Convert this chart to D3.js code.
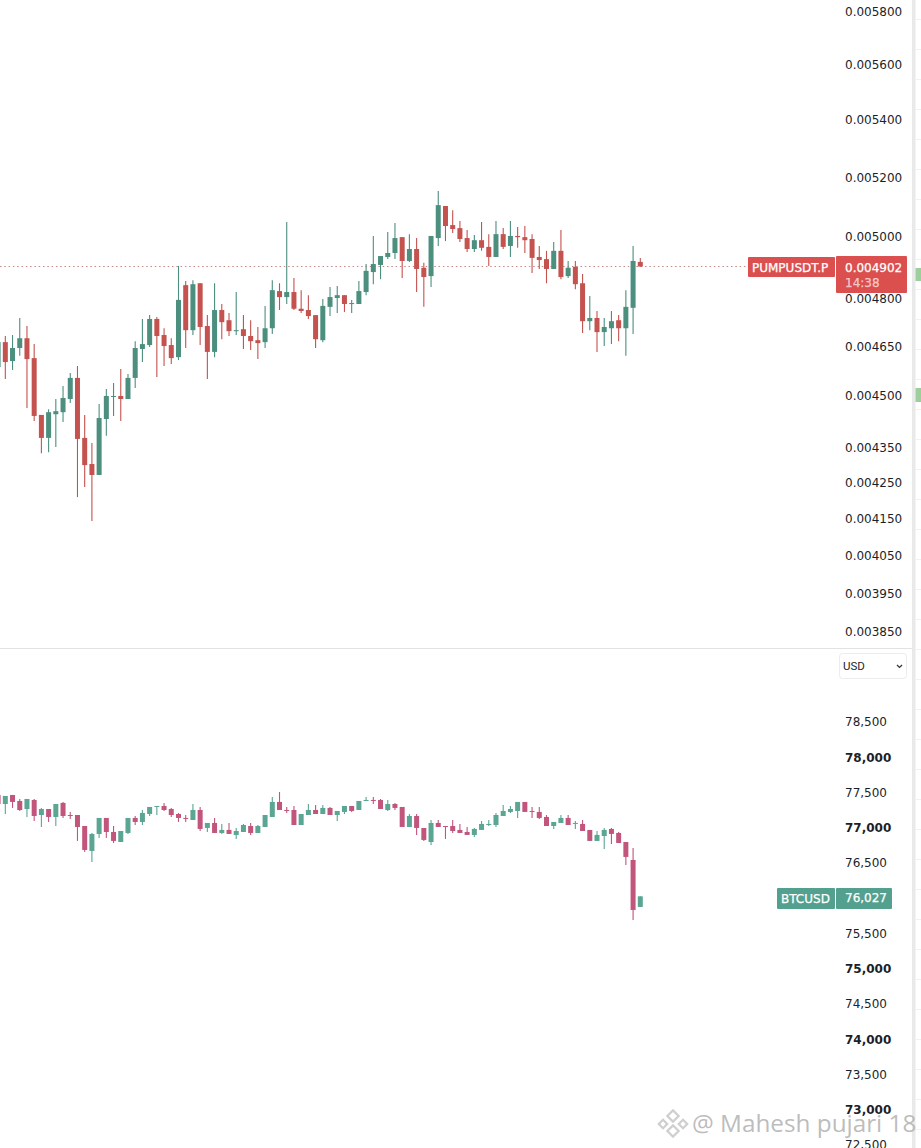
<!DOCTYPE html>
<html>
<head>
<meta charset="utf-8">
<title>PUMPUSDT.P / BTCUSD</title>
<script src="https://cdn.jsdelivr.net/npm/d3@7"></script>
<style>
    html, body { margin: 0; padding: 0; background: #fff; overflow: hidden; }
    svg { display: block; }
    .tick text { font-family: "DejaVu Sans", sans-serif; font-size: 12px; fill: #1b1f2a; }
    .tag { font-family: "DejaVu Sans", sans-serif; font-size: 12px; fill: #fff; stroke: #fff; stroke-width: 0.25px; }
</style>
</head>
<body>
<div id="chart"></div>
<script>
// each row is open, high, low, close
var pumpCandles = [
    [0.004587,0.004679,0.004587,0.004663],
    [0.004663,0.004682,0.004551,0.004602],[0.004605,0.004685,0.004578,0.004645],[0.004645,0.004738,0.004621,0.004675],
    [0.004675,0.004713,0.004464,0.004611],[0.004614,0.004657,0.004426,0.004441],[0.004444,0.004444,0.004333,0.004377],
    [0.004377,0.004461,0.004336,0.004452],[0.004446,0.004491,0.004351,0.004455],[0.004452,0.004530,0.004423,0.004494],
    [0.004491,0.004569,0.004479,0.004554],[0.004554,0.004590,0.004209,0.004374],[0.004377,0.004444,0.004237,0.004299],
    [0.004302,0.004362,0.004143,0.004271],[0.004271,0.004476,0.004271,0.004435],[0.004432,0.004521,0.004383,0.004500],
    [0.004497,0.004539,0.004441,0.004500],[0.004500,0.004581,0.004426,0.004491],[0.004491,0.004566,0.004491,0.004554],
    [0.004554,0.004666,0.004524,0.004645],[0.004642,0.004735,0.004602,0.004657],[0.004654,0.004747,0.004648,0.004735],
    [0.004735,0.004741,0.004557,0.004682],[0.004685,0.004706,0.004590,0.004651],[0.004654,0.004675,0.004596,0.004614],
    [0.004617,0.004904,0.004608,0.004795],[0.004842,0.004855,0.004645,0.004700],[0.004700,0.004858,0.004685,0.004845],
    [0.004848,0.004848,0.004654,0.004710],[0.004713,0.004747,0.004551,0.004633],[0.004633,0.004848,0.004617,0.004763],
    [0.004763,0.004782,0.004672,0.004725],[0.004731,0.004754,0.004682,0.004697],[0.004697,0.004820,0.004685,0.004700],
    [0.004703,0.004747,0.004642,0.004682],[0.004682,0.004731,0.004639,0.004666],[0.004669,0.004710,0.004611,0.004660],
    [0.004663,0.004776,0.004645,0.004706],[0.004706,0.004858,0.004688,0.004826],[0.004823,0.004848,0.004763,0.004804],
    [0.004804,0.005048,0.004782,0.004820],[0.004820,0.004865,0.004763,0.004767],[0.004767,0.004826,0.004754,0.004760],
    [0.004763,0.004810,0.004735,0.004744],[0.004747,0.004747,0.004645,0.004672],[0.004669,0.004798,0.004663,0.004776],
    [0.004773,0.004836,0.004744,0.004804],[0.004801,0.004839,0.004754,0.004810],[0.004810,0.004810,0.004757,0.004782],
    [0.004782,0.004795,0.004754,0.004785],[0.004782,0.004855,0.004782,0.004823],[0.004820,0.004910,0.004810,0.004888],
    [0.004884,0.005002,0.004845,0.004910],[0.004907,0.004936,0.004861,0.004936],[0.004933,0.005015,0.004926,0.004946],
    [0.004946,0.005045,0.004926,0.004995],[0.004998,0.004998,0.004865,0.004920],[0.004920,0.005008,0.004917,0.004959],
    [0.004959,0.004995,0.004820,0.004894],[0.004898,0.004914,0.004773,0.004868],[0.004871,0.005002,0.004836,0.005002],
    [0.004995,0.005153,0.004969,0.005105],[0.005102,0.005102,0.004985,0.005035],[0.005038,0.005088,0.005012,0.005025],
    [0.005028,0.005052,0.004982,0.004992],[0.004995,0.005022,0.004949,0.004959],[0.004959,0.005005,0.004949,0.004988],
    [0.004988,0.005048,0.004953,0.004963],[0.004966,0.005008,0.004904,0.004933],[0.004933,0.005052,0.004933,0.005008],
    [0.005008,0.005028,0.004959,0.004966],[0.004969,0.005052,0.004933,0.005002],[0.005002,0.005032,0.004963,0.004998],
    [0.004998,0.005035,0.004946,0.004988],[0.004992,0.005008,0.004881,0.004930],[0.004933,0.004969,0.004894,0.004923],
    [0.004926,0.004953,0.004848,0.004894],[0.004894,0.004982,0.004894,0.004953],[0.004953,0.005022,0.004861,0.004868],
    [0.004871,0.004920,0.004865,0.004898],[0.004901,0.004920,0.004829,0.004845],[0.004848,0.004878,0.004691,0.004728],
    [0.004728,0.004807,0.004700,0.004738],[0.004738,0.004760,0.004633,0.004694],[0.004694,0.004738,0.004651,0.004710],
    [0.004706,0.004760,0.004657,0.004728],[0.004731,0.004747,0.004666,0.004706],[0.004706,0.004826,0.004621,0.004773],
    [0.004770,0.004969,0.004688,0.004920],[0.004917,0.004930,0.004901,0.004902]
];

var btcCandles = [
    [77465,77465,77337,77337],
    [77337,77451,77195,77451],[77465,77465,77281,77366],[77380,77408,77238,77252],[77266,77408,77153,77408],
    [77394,77408,77096,77167],[77181,77281,77011,77266],[77266,77266,77082,77153],[77153,77337,77025,77337],
    [77352,77366,77139,77167],[77181,77224,77125,77167],[77181,77181,76813,77011],[77025,77025,76657,76685],
    [76671,76926,76515,76912],[76912,77139,76855,77139],[77139,77139,76855,76940],[76940,77025,76784,76813],
    [76798,76954,76798,76954],[76926,77139,76912,77139],[77139,77167,77039,77082],[77082,77252,77039,77210],
    [77195,77295,77167,77295],[77295,77309,77181,77309],[77309,77352,77238,77252],[77266,77281,77153,77181],
    [77195,77210,77082,77139],[77139,77181,77082,77125],[77110,77337,77110,77252],[77252,77295,76954,76983],
    [76997,77068,76940,77068],[77068,77139,76926,76926],[76926,77054,76912,76969],[76969,77068,76912,76912],
    [76898,76997,76841,76954],[76940,77054,76940,77039],[77025,77068,76898,76926],[76926,77039,76926,77025],
    [77011,77181,77011,77181],[77153,77437,77153,77366],[77366,77507,77252,77252],[77252,77295,77210,77238],
    [77252,77309,77039,77039],[77039,77195,77039,77195],[77181,77337,77181,77252],[77252,77323,77195,77195],
    [77195,77323,77195,77281],[77281,77295,77181,77181],[77181,77238,77096,77238],[77224,77309,77195,77309],
    [77309,77309,77224,77238],[77252,77380,77252,77380],[77380,77437,77380,77394],[77394,77437,77337,77380],
    [77394,77408,77266,77266],[77252,77394,77238,77337],[77337,77352,77252,77281],[77295,77295,77011,77011],
    [77011,77195,77011,77167],[77167,77195,76898,76997],[76997,76997,76813,76827],[76798,77110,76756,77068],
    [77068,77110,77011,77011],[77025,77025,76841,77011],[77025,77110,76926,76954],[76969,77054,76926,76926],
    [76940,77011,76898,76898],[76898,76997,76869,76983],[76969,77096,76969,77054],[77039,77110,77025,77054],
    [77039,77210,77011,77181],[77167,77323,77167,77238],[77224,77309,77210,77266],[77238,77366,77139,77366],
    [77366,77366,77224,77224],[77238,77295,77139,77224],[77224,77295,77125,77139],[77153,77181,77025,77025],
    [77025,77082,76983,77082],[77068,77181,77068,77139],[77139,77181,77039,77039],[77054,77096,76983,77068],
    [77054,77110,76954,76954],[76969,76969,76813,76813],[76813,76954,76813,76898],[76883,76997,76699,76969],
    [76983,76997,76770,76912],[76926,76940,76784,76784],[76798,76798,76472,76586],[76543,76713,75692,75834],
    [75877,76027,75877,76027]
];

var pumpTicks = [0.0058, 0.0056, 0.0054, 0.0052, 0.005, 0.0048, 0.00465, 0.0045, 0.00435, 0.00425, 0.00415, 0.00405, 0.00395, 0.00385];
var btcTicks = [78500, 78000, 77500, 77000, 76500, 75500, 75000, 74500, 74000, 73500, 73000, 72500];
var btcBoldTicks = [78000, 77000, 75000, 74000, 73000];

var pumpLast = 0.004902, pumpCountdown = "14:38", btcLast = 76027;

var width = 921, height = 1148;

var svg = d3.select("#chart").append("svg")
    .attr("width", width)
    .attr("height", height);

var x = d3.scaleLinear().domain([0, pumpCandles.length - 1]).range([-1.9, 640.3]);
var yPump = d3.scaleLog().domain([0.00385, 0.0058]).range([632, 12]);
var yBtc = d3.scaleLinear().domain([72500, 78500]).range([1145, 722]);

// pane furniture
svg.append("rect").attr("x", 912).attr("y", 0).attr("width", 3.5).attr("height", height).attr("fill", "#e9e9e9");
svg.append("line").attr("x1", 0).attr("x2", 912).attr("y1", 648.5).attr("y2", 648.5).attr("stroke", "#e2e2e2");
svg.selectAll(".edge-tick")
    .data(d3.range(19, height, 30))
    .enter().append("line")
    .attr("class", "edge-tick")
    .attr("x1", 915.5).attr("x2", 921)
    .attr("y1", function (d) { return d + 0.5; })
    .attr("y2", function (d) { return d + 0.5; })
    .attr("stroke", "#f1f1f1");
svg.append("rect").attr("x", 915.5).attr("y", 268).attr("width", 5.5).attr("height", 13).attr("fill", "#9ccf9c");
svg.append("rect").attr("x", 915.5).attr("y", 388).attr("width", 5.5).attr("height", 14).attr("fill", "#9ccf9c");

function drawCandles(rows, y, up, down) {
    var candle = svg.append("g").selectAll("g")
        .data(rows)
        .enter().append("g")
        .attr("fill", function (d) { return d[3] >= d[0] ? up : down; })
        .attr("stroke", function (d) { return d[3] >= d[0] ? up : down; });

    candle.append("line")
        .attr("x1", function (d, i) { return x(i); })
        .attr("x2", function (d, i) { return x(i); })
        .attr("y1", function (d) { return y(d[1]); })
        .attr("y2", function (d) { return y(d[2]); })
        .attr("stroke-width", 1.1);

    candle.append("rect")
        .attr("x", function (d, i) { return x(i) - 2.5; })
        .attr("width", 5)
        .attr("y", function (d) { return y(Math.max(d[0], d[3])); })
        .attr("height", function (d) { return Math.max(y(Math.min(d[0], d[3])) - y(Math.max(d[0], d[3])), 1); })
        .attr("stroke", "none");
}

// last price line of the top pane
svg.append("line")
    .attr("x1", 0).attr("x2", 748)
    .attr("y1", yPump(pumpLast)).attr("y2", yPump(pumpLast))
    .attr("stroke", "#c48a86")
    .attr("stroke-dasharray", "1.5 2.8");

drawCandles(pumpCandles, yPump, "#4c8f7f", "#c4524e");
drawCandles(btcCandles, yBtc, "#5aa593", "#c2557c");

// axes
var pumpAxis = svg.append("g")
    .attr("transform", "translate(845,0)")
    .call(d3.axisRight(yPump).tickValues(pumpTicks).tickSize(0).tickPadding(0)
        .tickFormat(function (d) { return d.toFixed(6); }));
pumpAxis.select(".domain").remove();

var btcAxis = svg.append("g")
    .attr("transform", "translate(845,0)")
    .call(d3.axisRight(yBtc).tickValues(btcTicks).tickSize(0).tickPadding(0)
        .tickFormat(d3.format(",")));
btcAxis.select(".domain").remove();
btcAxis.selectAll(".tick text")
    .style("font-weight", function (d) { return btcBoldTicks.indexOf(d) >= 0 ? "bold" : null; });

// price tags
svg.append("rect").attr("x", 748).attr("y", 257).attr("width", 87).attr("height", 20).attr("rx", 1).attr("fill", "#db4f4e");
svg.append("rect").attr("x", 836).attr("y", 256).attr("width", 71).attr("height", 37).attr("rx", 1).attr("fill", "#db4f4e");
svg.append("text").attr("class", "tag").attr("x", 752).attr("y", 271.5).text("PUMPUSDT.P");
svg.append("text").attr("class", "tag").attr("x", 845).attr("y", 271.5).text(pumpLast.toFixed(6));
svg.append("text").attr("class", "tag").attr("x", 845).attr("y", 287).attr("fill-opacity", 0.65).attr("stroke-opacity", 0.65).text(pumpCountdown);

svg.append("rect").attr("x", 777).attr("y", 888).attr("width", 58).attr("height", 21).attr("rx", 1).attr("fill", "#53a08f");
svg.append("rect").attr("x", 836).attr("y", 888).attr("width", 56).attr("height", 21).attr("rx", 1).attr("fill", "#53a08f");
svg.append("text").attr("class", "tag").attr("x", 781).attr("y", 903).text("BTCUSD");
svg.append("text").attr("class", "tag").attr("x", 845).attr("y", 902).text(d3.format(",")(btcLast));

// currency selector
svg.append("rect").attr("x", 839.5).attr("y", 653.5).attr("width", 67).attr("height", 25).attr("rx", 3)
    .attr("fill", "#fff").attr("stroke", "#ececec");
svg.append("text").attr("x", 843).attr("y", 670).attr("fill", "#1b1f2a")
    .style("font-family", "Roboto, sans-serif").style("font-size", "11.5px").text("USD");
svg.append("path").attr("d", "M897 665l2.5 2.5l2.5 -2.5").attr("fill", "none").attr("stroke", "#333").attr("stroke-width", 1.2);

// watermark
var mark = svg.append("g").attr("transform", "translate(673,1124)")
    .attr("fill", "none").attr("stroke", "#cfcfcf").attr("stroke-width", 2.2);
mark.append("rect").attr("x", -4).attr("y", -12).attr("width", 8).attr("height", 8).attr("transform", "rotate(45 0 -8)");
mark.append("rect").attr("x", -13).attr("y", -3).attr("width", 6).attr("height", 6).attr("transform", "rotate(45 -10 0)");
mark.append("rect").attr("x", 7).attr("y", -3).attr("width", 6).attr("height", 6).attr("transform", "rotate(45 10 0)");
mark.append("rect").attr("x", -4).attr("y", 3).attr("width", 8).attr("height", 8).attr("transform", "rotate(45 0 7)");

svg.append("text").attr("x", 692).attr("y", 1132)
    .attr("fill", "#b4b4b4").attr("fill-opacity", 0.9)
    .style("font-family", "'Open Sans', sans-serif").style("font-size", "24.3px")
    .text("@ Mahesh pujari 18");
</script>
</body>
</html>
